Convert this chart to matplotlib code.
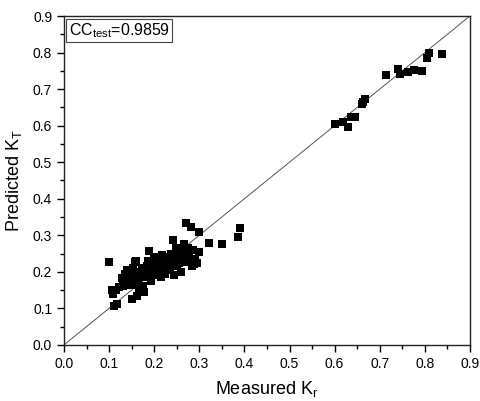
import matplotlib.pyplot as plt
from matplotlib.ticker import MultipleLocator

plt.rcParams["font.family"] = ["Liberation Sans", "DejaVu Sans"]

# upper cluster
x_high = [0.601, 0.619, 0.629, 0.636, 0.645, 0.660, 0.664, 0.668, 0.715, 0.741, 0.745,
          0.763, 0.776, 0.793, 0.804, 0.809, 0.839]
y_high = [0.604, 0.611, 0.595, 0.623, 0.623, 0.660, 0.666, 0.672, 0.738, 0.754, 0.740,
          0.746, 0.752, 0.749, 0.784, 0.800, 0.796]

# lower cluster
x_low = [0.100, 0.106, 0.108, 0.111, 0.118, 0.115, 0.122, 0.128, 0.130, 0.135, 0.139,
         0.140, 0.145, 0.148, 0.150, 0.152, 0.155, 0.157, 0.160, 0.160, 0.163, 0.165,
         0.167, 0.170, 0.172, 0.175, 0.178, 0.180, 0.182, 0.185, 0.187, 0.189, 0.190,
         0.192, 0.195, 0.198, 0.200, 0.202, 0.205, 0.207, 0.210, 0.212, 0.215, 0.218,
         0.220, 0.222, 0.225, 0.228, 0.230, 0.232, 0.235, 0.238, 0.240, 0.242, 0.244,
         0.246, 0.248, 0.250, 0.252, 0.255, 0.258, 0.260, 0.262, 0.265, 0.268, 0.270,
         0.272, 0.275, 0.278, 0.281, 0.283, 0.285, 0.288, 0.290, 0.295, 0.300, 0.300,
         0.321, 0.350, 0.385, 0.391]
y_low = [0.228, 0.150, 0.140, 0.107, 0.111, 0.150, 0.158, 0.182, 0.160, 0.195, 0.205,
         0.175, 0.190, 0.165, 0.125, 0.210, 0.180, 0.228, 0.230, 0.200, 0.134, 0.170,
         0.155, 0.190, 0.210, 0.160, 0.144, 0.200, 0.185, 0.215, 0.230, 0.258, 0.195,
         0.175, 0.220, 0.205, 0.240, 0.190, 0.215, 0.225, 0.200, 0.235, 0.185, 0.245,
         0.210, 0.225, 0.195, 0.240, 0.215, 0.230, 0.205, 0.250, 0.220, 0.287, 0.190,
         0.235, 0.265, 0.215, 0.245, 0.225, 0.260, 0.200, 0.240, 0.275, 0.250, 0.333,
         0.228, 0.265, 0.245, 0.322, 0.215, 0.260, 0.220, 0.235, 0.225, 0.308, 0.255,
         0.280, 0.275, 0.295, 0.321]

cc_text = "CC$_{\\mathregular{test}}$=0.9859"

fig = plt.figure(figsize=(4.81, 4.01), dpi=100)
ax = fig.add_axes([0.133, 0.140, 0.844, 0.820])

ax.plot([0, 0.9], [0, 0.9], color="#555555", lw=0.7, zorder=1)
ax.scatter(x_low + x_high, y_low + y_high, marker="s", s=34, color="black",
           linewidths=0, zorder=2)

ax.set_xlim(0, 0.9)
ax.set_ylim(0, 0.9)
ax.xaxis.set_major_locator(MultipleLocator(0.1))
ax.yaxis.set_major_locator(MultipleLocator(0.1))
ax.xaxis.set_minor_locator(MultipleLocator(0.05))
ax.yaxis.set_minor_locator(MultipleLocator(0.05))
ax.xaxis.set_major_formatter(plt.FormatStrFormatter("%.1f"))
ax.yaxis.set_major_formatter(plt.FormatStrFormatter("%.1f"))
ax.tick_params(which="both", direction="out", top=False, right=False, labelsize=10)
ax.tick_params(which="major", length=5, width=1)
ax.tick_params(which="minor", length=3, width=1)
for s in ax.spines.values():
    s.set_linewidth(1)
    s.set_color("#222222")

ax.set_xlabel("Measured K$_{\\mathregular{r}}$", fontsize=13, labelpad=6)
ax.set_ylabel("Predicted K$_{\\mathregular{T}}$", fontsize=13, labelpad=6)

ax.text(0.012, 0.985, cc_text, transform=ax.transAxes, ha="left", va="top",
        fontsize=11.5,
        bbox=dict(boxstyle="square,pad=0.15", facecolor="white", edgecolor="#444444",
                  linewidth=0.8))

fig.savefig("out.png", dpi=100)
